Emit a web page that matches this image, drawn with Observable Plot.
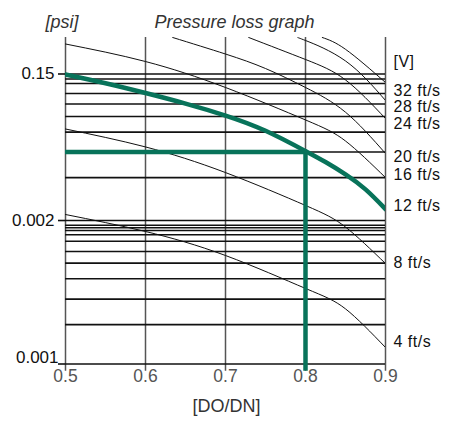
<!DOCTYPE html>
<html>
<head>
<meta charset="utf-8">
<script src="https://cdn.jsdelivr.net/npm/d3@7"></script>
<script src="https://cdn.jsdelivr.net/npm/@observablehq/plot@0.6"></script>
<style>
  html, body { margin: 0; padding: 0; background: #fff; }
  .speed text { letter-spacing: 0.5px; }
</style>
</head>
<body>
<div id="chart"></div>
<script>
// ---- data ----
const xTicks = [0.5, 0.6, 0.7, 0.8, 0.9];
const yTickValues = [100, 9.76];
const yTickLabels = ["0.15", "0.002"];
const yBottomValue = [1];
const yBottomLabel = ["0.001"];
const yGridLines = [1, 1.87, 2.8, 3.87, 4.96, 5.97, 7.03, 7.78, 8.33, 8.7, 9.06, 9.76,
                    19.3, 29, 39.7, 50.9, 62.1, 73.4, 86, 92.4, 100];
const yTop = 178.5;
const yBottomExt = 0.89;

// speed curves: [DO/DN, loss]
const curve4 = [[0.5,10.74],[0.6,8.2],[0.7,5.6],[0.8,3.32],[0.85,2.4],[0.9,1.3]];
const curve8 = [[0.5,41.75],[0.6,31.4],[0.7,20.9],[0.8,12.4],[0.85,8.8],[0.9,4.93]];
const curve12 = [[0.5,99.2],[0.55,86.3],[0.6,73.9],[0.65,62.5],[0.7,51.7],[0.75,40.6],[0.8,29.4],[0.825,24.7],[0.85,20.3],[0.875,16.0],[0.9,11.7]];
const curve16 = [[0.5,161],[0.6,121.9],[0.7,80.7],[0.8,48.2],[0.85,34.5],[0.9,19.3]];
const curve20 = [[0.634,178.5],[0.7,137.3],[0.75,109.1],[0.8,80.7],[0.85,54.5],[0.9,28.3]];
const curve24 = [[0.729,178.5],[0.8,125.9],[0.85,91],[0.9,49.3]];
const curve28 = [[0.79,178.5],[0.8,170.2],[0.85,123],[0.9,65.7]];
const curve32 = [[0.821,178.5],[0.85,148],[0.9,87.4]];
const thinCurves = [curve4, curve8, curve16, curve20, curve24, curve28, curve32];

// selected operating point
const opX = 0.8;
const opY = 29;

// right-hand labels
const speedLabels = ["[V]", "32 ft/s", "28 ft/s", "24 ft/s", "20 ft/s", "16 ft/s", "12 ft/s", "8 ft/s", "4 ft/s"];
const speedLabelY = [121, 76.9, 59.2, 45.2, 26.8, 20.3, 12.4, 5.01, 1.41];

const GREEN = "#08735a";
const FONT = "'Liberation Sans', Arial, Helvetica, sans-serif";

const chart = Plot.plot({
  width: 461,
  height: 425,
  marginLeft: 65,
  marginRight: 76,
  marginTop: 37,
  marginBottom: 61.5,
  style: { fontFamily: FONT, background: "#fff", overflow: "visible" },
  x: { domain: [0.5, 0.9], axis: null },
  y: { type: "log", domain: [1, yTop], axis: null },
  marks: [
    // vertical grid
    Plot.ruleX(xTicks, { y1: yBottomExt, y2: yTop, stroke: "#555", strokeWidth: 1.5 }),
    // horizontal grid
    Plot.ruleY(yGridLines, { x1: 0.5, x2: 0.9, stroke: "#111", strokeWidth: 1.6 }),
    // y tick marks
    Plot.ruleY([...yTickValues, ...yBottomValue], { x1: 0.49125, x2: 0.5, stroke: "#111", strokeWidth: 1.6 }),
    // thin curves
    ...thinCurves.map(c => Plot.line(c, { x: d => d[0], y: d => d[1], stroke: "#111", strokeWidth: 1, curve: "natural", clip: true })),
    // operating point guides
    Plot.ruleY([opY], { x1: 0.5, x2: opX, stroke: GREEN, strokeWidth: 4.5 }),
    Plot.ruleX([opX], { y1: yBottomExt, y2: opY, stroke: GREEN, strokeWidth: 4.5 }),
    // highlighted curve
    Plot.line(curve12, { x: d => d[0], y: d => d[1], stroke: GREEN, strokeWidth: 4.5, curve: "natural", clip: true }),
    // y labels
    Plot.text(yTickValues, { y: d => d, text: (d, i) => yTickLabels[i], frameAnchor: "left", textAnchor: "end", dx: -11, fontSize: 17, fill: "#111" }),
    Plot.text(yBottomValue, { y: d => d, text: (d, i) => yBottomLabel[i], frameAnchor: "left", textAnchor: "end", dx: -7, dy: -6, fontSize: 17, fill: "#111" }),
    // x labels
    Plot.text(xTicks, { x: d => d, text: d => d.toFixed(1), frameAnchor: "bottom", dy: 18, fontSize: 17.5, fill: "#555" }),
    Plot.text(["[DO/DN]"], { frameAnchor: "bottom", dx: 1, dy: 47.5, fontSize: 18, fill: "#333" }),
    // titles
    Plot.text(["Pressure loss graph"], { frameAnchor: "top", dx: 9, dy: -22, fontSize: 18, fontStyle: "italic", fill: "#333" }),
    Plot.text(["[psi]"], { frameAnchor: "top-left", dx: -20, dy: -22, fontSize: 18, fontStyle: "italic", fill: "#333" }),
    // right labels
    Plot.text(speedLabelY, { y: d => d, text: (d, i) => speedLabels[i], frameAnchor: "right", textAnchor: "start", dx: 8, fontSize: 16, fill: "#111", className: "speed" })
  ]
});
document.getElementById("chart").appendChild(chart);
</script>
</body>
</html>
